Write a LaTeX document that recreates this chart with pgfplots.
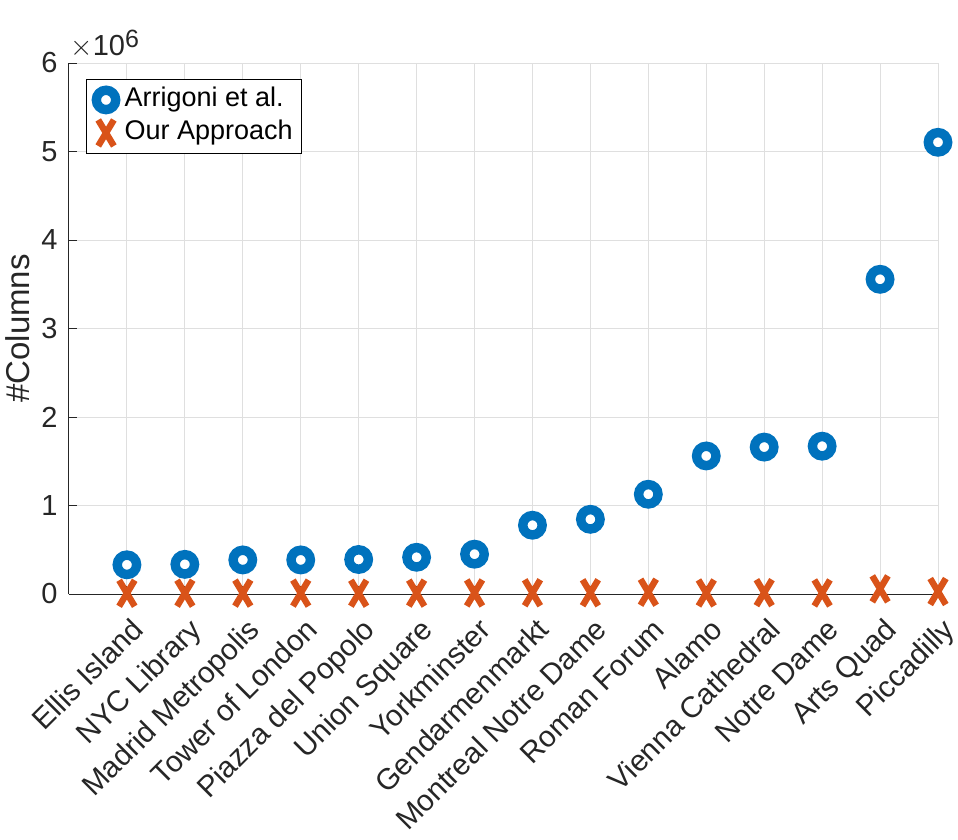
\documentclass[border=0pt]{standalone}
\usepackage{fontspec}
\setmainfont{Liberation Sans}
\usepackage{pgfplots}
\pgfplotsset{compat=1.18}
\definecolor{mblue}{HTML}{0072BD}
\definecolor{morange}{HTML}{D95319}
\definecolor{mtext}{HTML}{262626}
\definecolor{mgrid}{HTML}{DFDFDF}
\begin{document}
\begin{tikzpicture}
\begin{axis}[
  scale only axis, width=434.5pt, height=265.5pt,
  xmin=0, xmax=15, ymin=0, ymax=6000000,
  axis x line*=bottom, axis y line*=left,
  axis line style={mtext, line width=0.5pt, -},
  xtick={1,2,3,4,5,6,7,8,9,10,11,12,13,14,15},
  xticklabels={Ellis Island,NYC Library,Madrid Metropolis,Tower of London,Piazza del Popolo,Union Square,Yorkminster,Gendarmenmarkt,Montreal Notre Dame,Roman Forum,Alamo,Vienna Cathedral,Notre Dame,Arts Quad,Piccadilly},
  ytick={0,1000000,2000000,3000000,4000000,5000000,6000000},
  yticklabels={0,1,2,3,4,5,6},
  scaled y ticks=false,
  tick align=inside, major tick length=4pt,
  tick style={mtext, line width=0.5pt},
  grid=major, grid style={mgrid, line width=0.5pt},
  ticklabel style={font=\fontsize{14.5}{14.5}\selectfont, text=mtext},
  xticklabel style={font=\fontsize{14.8}{14.8}\selectfont, xshift=6.5pt, yshift=-16pt, rotate=45, anchor=east, inner sep=0pt, text height=10.5pt, text depth=3pt},
  yticklabel style={inner sep=0pt, xshift=-5.5pt},
  ylabel={\#Columns},
  every axis y label/.style={at={(axis description cs:-0.0587,0.5)}, rotate=90, anchor=center, font=\fontsize{16.5}{16.5}\selectfont, text=mtext},
  clip=false,
  legend style={at={(0.0196,0.970)}, anchor=north west, draw=black, line width=0.5pt, fill=white,
    inner xsep=2.5pt, inner ysep=3pt, row sep=2pt, font=\fontsize{13.5}{13.5}\selectfont,
    nodes={inner xsep=2pt, inner ysep=0pt, text height=10.5pt, text depth=4pt, anchor=west}},
  legend cell align=left,
  legend image code/.code={\path (0pt,0pt) (14pt,0pt); \draw[mark repeat=2, mark phase=2, #1] plot coordinates {(0pt,0pt) (7pt,0pt) (14pt,0pt)};},
]
\addplot[only marks, mark=*, mark size=4.85pt, mark options={draw=mblue, fill=white, line width=4.7pt}] coordinates {
(1,330000) (2,335000) (3,385000) (4,385000) (5,390000) (6,415000) (7,450000) (8,777000) (9,844000) (10,1127000) (11,1560000) (12,1660000) (13,1670000) (14,3556000) (15,5104000)
};
\addlegendentry{Arrigoni et al.}
\addplot[only marks, mark=x, mark size=9.2pt, mark options={draw=morange, line width=3.2pt, xscale=0.6}] coordinates {
(1,8000) (2,9000) (3,10000) (4,10000) (5,9000) (6,10000) (7,12000) (8,14000) (9,14000) (10,20000) (11,12000) (12,15000) (13,12000) (14,58000) (15,28000)
};
\addlegendentry{Our Approach}
\node[anchor=base west, inner sep=0pt, xshift=0.5pt, yshift=4pt, text=mtext, font=\fontsize{14.5}{14.5}\selectfont] at (rel axis cs:0,1) {$\times$10\raisebox{4pt}{\fontsize{12.5}{12.5}\selectfont 6}};
\end{axis}
\pgfresetboundingbox
\path[use as bounding box] (-34.5pt,-123pt) rectangle (444.5pt,297pt);
\end{tikzpicture}
\end{document}
